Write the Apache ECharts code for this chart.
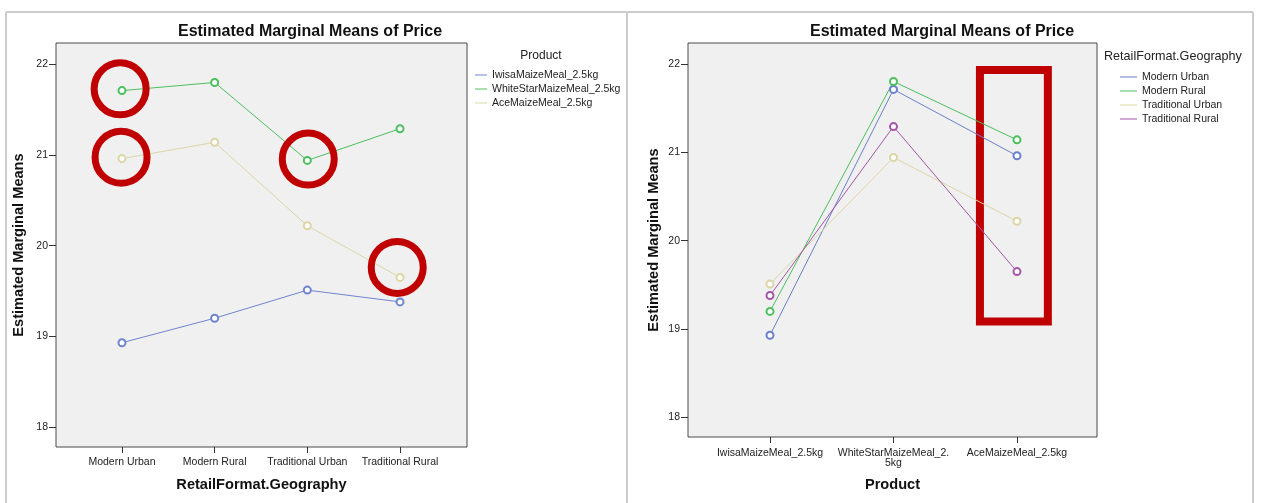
<!DOCTYPE html>
<html>
<head>
<meta charset="utf-8">
<title>Estimated Marginal Means of Price</title>
<script src="https://cdn.jsdelivr.net/npm/echarts@6/dist/echarts.min.js"></script>
<style>
  html, body { margin: 0; padding: 0; background: #ffffff; }
  #main { width: 1262px; height: 503px; }
</style>
</head>
<body>
<div id="main"></div>
<script>
// ---- data -------------------------------------------------------------
const formats = ['Modern Urban', 'Modern Rural', 'Traditional Urban', 'Traditional Rural'];
const products = ['IwisaMaizeMeal_2.5kg', 'WhiteStarMaizeMeal_2.5kg', 'AceMaizeMeal_2.5kg'];

// Estimated marginal mean price per product, in the order of `formats`
const iwisaMeans     = [18.93, 19.20, 19.51, 19.38];
const whiteStarMeans = [21.71, 21.80, 20.94, 21.29];
const aceMeans       = [20.96, 21.14, 20.22, 19.65];

const yTickValues = [18, 19, 20, 21, 22];

// Highlight rings on the first plot: [format index, price]
const ringCentres = [[-0.02, 21.73], [-0.01, 20.975], [2.01, 20.955], [2.97, 19.76]];
// Highlight box on the second plot: product-index span and price span
const boxProductSpan = [1.70, 2.25];
const boxPriceSpan = [19.085, 21.93];

// ---- styling ----------------------------------------------------------
const FONT = '"Liberation Sans", Arial, Helvetica, sans-serif';
const productColors = ['#6f84cf', '#4cc05f', '#dcd6a6'];
const formatColors = ['#6a80cc', '#4cc05f', '#dcd6a6', '#a455aa'];
const ringRed = '#c00000';

const meansByProduct = [iwisaMeans, whiteStarMeans, aceMeans];

function lineSeries(name, color, data, axisIdx) {
  return {
    name: name,
    type: 'line',
    xAxisIndex: axisIdx,
    yAxisIndex: axisIdx,
    data: data,
    symbol: 'emptyCircle',
    symbolSize: 7,
    color: color,
    lineStyle: { width: 1, color: color },
    itemStyle: { color: color, borderWidth: 1 },
    emphasis: { disabled: true },
    animation: false
  };
}

// Left plot: one line per product across retail formats
const leftSeries = products.map((p, i) =>
  lineSeries(p, productColors[i], meansByProduct[i].map((v, j) => [j, v]), 0));

// Right plot: one line per retail format across products
const rightSeries = formats.map((f, j) =>
  lineSeries(f, formatColors[j], meansByProduct.map((arr, i) => [i, arr[j]]), 1));

// Red box drawn around the AceMaizeMeal column
rightSeries[0].markArea = {
  silent: true,
  itemStyle: { color: 'rgba(0,0,0,0)', borderColor: ringRed, borderWidth: 8, opacity: 1 },
  label: { show: false },
  data: [[
    { coord: [boxProductSpan[0], boxPriceSpan[1]] },
    { coord: [boxProductSpan[1], boxPriceSpan[0]] }
  ]]
};

const ringSeries = {
  name: 'rings',
  type: 'scatter',
  xAxisIndex: 0,
  yAxisIndex: 0,
  data: ringCentres,
  symbol: 'circle',
  symbolSize: 52,
  itemStyle: { color: 'rgba(0,0,0,0)', borderColor: ringRed, borderWidth: 7, opacity: 1 },
  emphasis: { disabled: true },
  silent: true,
  z: 5
};

const axisNameStyle = { fontFamily: FONT, fontSize: 14.6, fontWeight: 'bold', color: '#111' };

function yAxisFor(gridIndex, nameGap) {
  return {
    type: 'value',
    gridIndex: gridIndex,
    min: 17.78,
    max: 22.235,
    name: 'Estimated Marginal Means',
    nameLocation: 'middle',
    nameGap: nameGap,
    nameTextStyle: axisNameStyle,
    axisLine: { show: false, onZero: false },
    axisTick: { show: true, length: 7, customValues: yTickValues, lineStyle: { color: '#333', width: 1 } },
    axisLabel: { customValues: yTickValues, margin: 8, fontFamily: FONT, fontSize: 10.5, color: '#222' },
    splitLine: { show: false }
  };
}

const option = {
  animation: false,
  backgroundColor: '#ffffff',
  textStyle: { fontFamily: FONT },
  graphic: [
    // panel outlines
    { type: 'line', shape: { x1: 6, y1: 12, x2: 1253, y2: 12 }, style: { stroke: '#cccccc', lineWidth: 2 }, silent: true },
    { type: 'line', shape: { x1: 6, y1: 12, x2: 6, y2: 503 }, style: { stroke: '#cccccc', lineWidth: 2 }, silent: true },
    { type: 'line', shape: { x1: 627, y1: 12, x2: 627, y2: 503 }, style: { stroke: '#cccccc', lineWidth: 2 }, silent: true },
    { type: 'line', shape: { x1: 1253, y1: 12, x2: 1253, y2: 503 }, style: { stroke: '#cccccc', lineWidth: 2 }, silent: true }
  ],
  title: [
    { text: 'Estimated Marginal Means of Price', left: 310, top: 24, textAlign: 'center', padding: 0,
      textStyle: { fontFamily: FONT, fontSize: 16, fontWeight: 'bold', color: '#111' } },
    { text: 'Estimated Marginal Means of Price', left: 942, top: 24, textAlign: 'center', padding: 0,
      textStyle: { fontFamily: FONT, fontSize: 16, fontWeight: 'bold', color: '#111' } },
    { text: 'Product', left: 541, top: 50, textAlign: 'center', padding: 0,
      textStyle: { fontFamily: FONT, fontSize: 12, fontWeight: 'normal', color: '#222' } },
    { text: 'RetailFormat.Geography', left: 1104, top: 50, padding: 0,
      textStyle: { fontFamily: FONT, fontSize: 12.6, fontWeight: 'normal', color: '#222' } }
  ],
  legend: [
    { data: products, orient: 'vertical', left: 475, top: 69, padding: 0, itemGap: 2,
      icon: 'rect', itemWidth: 12, itemHeight: 1, selectedMode: false,
      textStyle: { fontFamily: FONT, fontSize: 10.5, lineHeight: 12, color: '#222' } },
    { data: formats, orient: 'vertical', left: 1120, top: 71, padding: 0, itemGap: 2,
      icon: 'rect', itemWidth: 17, itemHeight: 1, selectedMode: false,
      textStyle: { fontFamily: FONT, fontSize: 10.5, lineHeight: 12, color: '#222' } }
  ],
  grid: [
    { left: 56, top: 43, width: 411, height: 404, show: true,
      backgroundColor: '#f0f0f0', borderColor: '#4a4a4a', borderWidth: 1 },
    { left: 688, top: 43, width: 409, height: 394, show: true,
      backgroundColor: '#f0f0f0', borderColor: '#4a4a4a', borderWidth: 1 }
  ],
  xAxis: [
    {
      type: 'value', gridIndex: 0, min: -0.712, max: 3.723,
      name: 'RetailFormat.Geography', nameLocation: 'middle', nameGap: 30,
      nameTextStyle: axisNameStyle,
      axisLine: { show: false, onZero: false },
      axisTick: { show: true, length: 6, customValues: [0, 1, 2, 3], lineStyle: { color: '#333', width: 1 } },
      axisLabel: { customValues: [0, 1, 2, 3], formatter: v => formats[v], margin: 10,
        fontFamily: FONT, fontSize: 10.5, color: '#222' },
      splitLine: { show: false }
    },
    {
      type: 'value', gridIndex: 1, min: -0.664, max: 2.648,
      name: 'Product', nameLocation: 'middle', nameGap: 40,
      nameTextStyle: axisNameStyle,
      axisLine: { show: false, onZero: false },
      axisTick: { show: true, length: 6, customValues: [0, 1, 2], lineStyle: { color: '#333', width: 1 } },
      axisLabel: { customValues: [0, 1, 2], formatter: v => products[v], margin: 11,
        width: 114, overflow: 'breakAll', lineHeight: 10,
        fontFamily: FONT, fontSize: 10.5, color: '#222' },
      splitLine: { show: false }
    }
  ],
  yAxis: [yAxisFor(0, 29.5), yAxisFor(1, 26.5)],
  series: leftSeries.concat(rightSeries, [ringSeries])
};

const chart = echarts.init(document.getElementById('main'), null, { renderer: 'canvas' });
chart.setOption(option);
</script>
</body>
</html>
